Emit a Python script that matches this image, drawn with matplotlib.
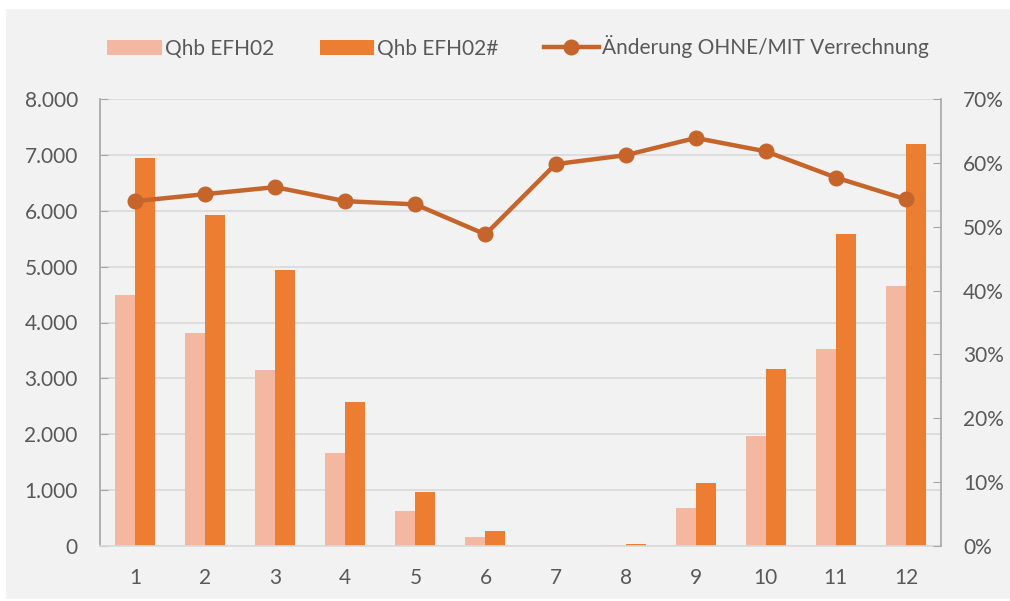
import numpy as np
import matplotlib.pyplot as plt
from matplotlib.patches import Rectangle
from matplotlib.ticker import FuncFormatter

months = [1, 2, 3, 4, 5, 6, 7, 8, 9, 10, 11, 12]
qhb = [4500, 3810, 3150, 1660, 620, 170, 5, 15, 680, 1960, 3530, 4650]
qhb_hash = [6950, 5930, 4940, 2580, 965, 265, 8, 35, 1120, 3170, 5590, 7190]
change = [54.0, 55.1, 56.2, 54.0, 53.5, 48.8, 59.8, 61.2, 63.9, 61.8, 57.7, 54.3]

plt.rcParams['font.family'] = ['Lato', 'DejaVu Sans']
txt = '#595959'
grid_c = '#d9d9d9'
axis_c = '#a6a6a6'
light = '#f4b8a2'
dark = '#ed7d31'
line_c = '#c5652b'
fs = 15

fig = plt.figure(figsize=(10.10, 6.01), dpi=100)
fig.patch.set_facecolor('white')
bg = Rectangle((6 / 1010, 2 / 601), 1, 590 / 601, transform=fig.transFigure,
               facecolor='#f2f2f2', edgecolor='none', zorder=-10)
fig.patches.append(bg)

ax = fig.add_axes([100 / 1010, 55 / 601, 841 / 1010, 447 / 601])
ax.set_facecolor('none')
x = np.array(months)
w = 0.285
b1 = ax.bar(x - w / 2, qhb, width=w, color=light, label='Qhb EFH02', zorder=2)
b2 = ax.bar(x + w / 2, qhb_hash, width=w, color=dark, label='Qhb EFH02#', zorder=2)
ax.set_xlim(0.5, 12.5)
ax.set_ylim(0, 8000)
ax.set_yticks(range(0, 8001, 1000))
ax.yaxis.set_major_formatter(FuncFormatter(lambda v, p: f'{int(v):,}'.replace(',', '.')))
ax.set_xticks(x)
ax.grid(axis='y', color=grid_c, linewidth=1.2, zorder=0)
ax.set_axisbelow(True)
for s in ['top', 'right']:
    ax.spines[s].set_visible(False)
ax.spines['left'].set_color(axis_c)
ax.spines['bottom'].set_color(grid_c)
ax.spines['left'].set_linewidth(1.2)
ax.spines['bottom'].set_linewidth(1.2)
ax.tick_params(axis='y', direction='in', length=6, color=axis_c, pad=16,
               labelsize=fs, labelcolor=txt)
ax.tick_params(axis='x', length=0, pad=16, labelsize=fs, labelcolor=txt)

ax2 = ax.twinx()
l, = ax2.plot(x, change, color=line_c, linewidth=3.2, marker='o', markersize=10.5,
              label='Änderung OHNE/MIT Verrechnung', zorder=3)
ax2.set_ylim(0, 70)
ax2.set_yticks(range(0, 71, 10))
ax2.yaxis.set_major_formatter(FuncFormatter(lambda v, p: f'{int(v)}%'))
for s in ['top', 'left', 'bottom']:
    ax2.spines[s].set_visible(False)
ax2.spines['right'].set_color(axis_c)
ax2.spines['right'].set_linewidth(1.2)
ax2.tick_params(axis='y', direction='in', length=6, color=axis_c, pad=16,
                labelsize=fs, labelcolor=txt)

leg = fig.legend(handles=[b1, b2, l], loc='center', bbox_to_anchor=(518 / 1010, 1 - 47 / 601),
                 ncol=3, frameon=False, fontsize=fs, handlelength=2.6,
                 handleheight=0.7, handletextpad=0.15, columnspacing=2.2)
for t in leg.get_texts():
    t.set_color(txt)

fig.savefig('out.png', dpi=100, facecolor=fig.get_facecolor())
